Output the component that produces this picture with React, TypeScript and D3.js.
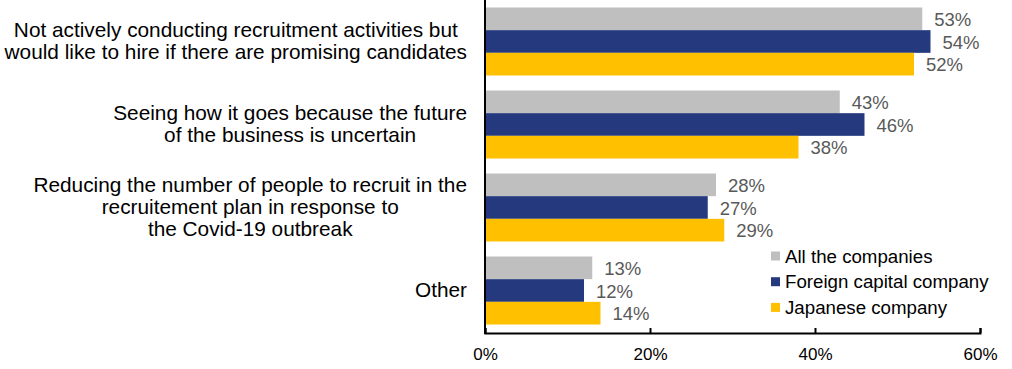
import React, { useEffect, useRef } from "react";
import * as d3 from "d3";

const categories: string[][] = [
  ["Not actively conducting recruitment activities but", "would like to hire if there are promising candidates"],
  ["Seeing how it goes because the future", "of the business is uncertain"],
  ["Reducing the number of people to recruit in the", "recruitement plan in response to", "the Covid-19 outbreak"],
  ["Other"],
];
const seriesNames = ["All the companies", "Foreign capital company", "Japanese company"];
const allCompanies = [53, 43, 28, 13];
const foreignCapital = [54, 46, 27, 12];
const japanese = [52, 38, 29, 14];
const seriesValues = [allCompanies, foreignCapital, japanese];
const colors = ["#BFBFBF", "#253A7E", "#FFC000"];
const xTicks = [0, 20, 40, 60];

const W = 1012;
const H = 369;
const X0 = 485;
const X1 = 980;
const YTOP = 0;
const YBOT = 333;
const FONT = "'Liberation Sans', Arial, sans-serif";
const CAT_FONT = 20.8;

function measure(text: string, size: number): number {
  const c = document.createElement("canvas");
  const ctx = c.getContext("2d");
  if (!ctx) return text.length * size * 0.5;
  ctx.font = `${size}px 'Liberation Sans', Arial, sans-serif`;
  return ctx.measureText(text).width;
}

export default function App() {
  const axisRef = useRef<SVGGElement>(null);
  const x = d3.scaleLinear().domain([0, 60]).range([X0, X1]);
  const catIdx = categories.map((_, i) => String(i));
  const y = d3.scaleBand<string>().domain(catIdx).range([YTOP, YBOT - 1]).paddingInner(15 / 83).paddingOuter(7.5 / 83);
  const ys = d3.scaleBand<string>().domain(seriesNames).range([0, y.bandwidth()]);

  useEffect(() => {
    if (!axisRef.current) return;
    const g = d3.select(axisRef.current);
    g.selectAll("*").remove();
    const axis = d3
      .axisBottom(x)
      .tickValues(xTicks)
      .tickFormat((d) => `${d}%`)
      .tickSizeInner(-5)
      .tickSizeOuter(-5)
      .tickPadding(15);
    g.call(axis as any);
    g.selectAll("path.domain").attr("stroke", "#000").attr("stroke-width", 2);
    g.selectAll(".tick line").attr("stroke", "#000").attr("stroke-width", 2);
    g.selectAll(".tick text")
      .attr("fill", "#000")
      .style("font-family", FONT)
      .style("font-size", "17px");
  }, []);

  return (
    <svg
      width={W}
      height={H}
      style={{ position: "absolute", left: 0, top: 0, display: "block", background: "#fff" }}
      fontFamily={FONT}
    >
      {categories.map((lines, ci) => {
        const cy = (y(String(ci)) as number) + y.bandwidth() / 2;
        const lh = 22;
        const start = cy - ((lines.length - 1) * lh) / 2 - 1;
        const maxW = Math.max(...lines.map((l) => measure(l, CAT_FONT)));
        const cx = 467 - maxW / 2;
        return (
          <g key={ci}>
            {seriesNames.map((s, si) => {
              const v = seriesValues[si][ci];
              const by = (y(String(ci)) as number) + (ys(s) as number);
              return (
                <g key={s}>
                  <rect x={x(0)} y={by} width={x(v) - x(0)} height={ys.bandwidth()} fill={colors[si]} />
                  <text
                    x={x(v) + 12}
                    y={by + ys.bandwidth() / 2}
                    dy="0.38em"
                    fontSize={18.5}
                    fill="#595959"
                  >
                    {v}%
                  </text>
                </g>
              );
            })}
            <text textAnchor="middle" fontSize={CAT_FONT} fill="#000">
              {lines.map((ln, li) => (
                <tspan key={li} x={cx} y={start + li * lh} dy="0.36em">
                  {ln}
                </tspan>
              ))}
            </text>
          </g>
        );
      })}
      <line x1={X0} x2={X0} y1={YTOP} y2={YBOT + 1} stroke="#000" strokeWidth={2} />
      <g ref={axisRef} transform={`translate(0,${YBOT})`} />
      {seriesNames.map((s, si) => {
        const ly = 256 + si * 25.7;
        return (
          <g key={s}>
            <rect x={771} y={ly - 4.5} width={9} height={9} fill={colors[si]} />
            <text x={785} y={ly} dy="0.36em" fontSize={18.7} fill="#000">
              {s}
            </text>
          </g>
        );
      })}
    </svg>
  );
}
